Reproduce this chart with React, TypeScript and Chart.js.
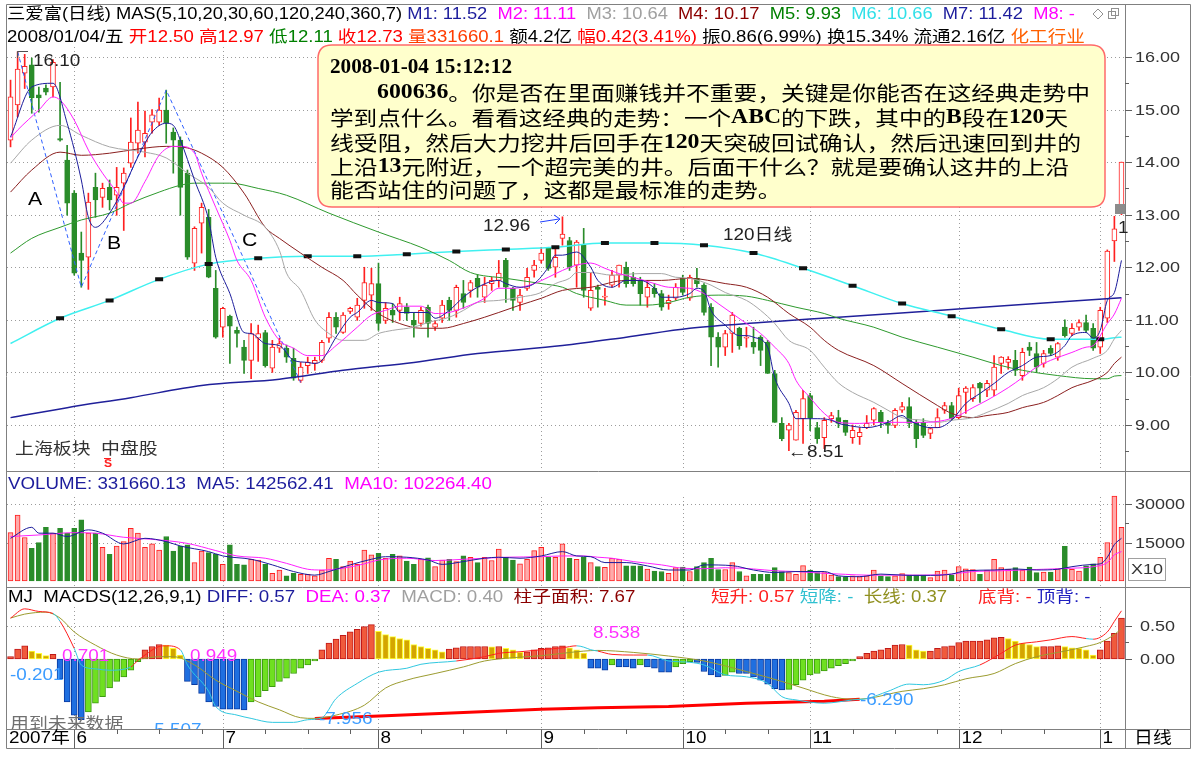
import React, { useEffect, useRef } from 'react';
import { Chart, registerables } from 'chart.js';

Chart.register(...registerables);

// ---------------- DATA ----------------
// daily candles [open, high, low, close], 2007-05 .. 2008-01
const OHLC: number[][] = [
  [14.42,15.56,14.29,15.24],[15.09,16.10,14.86,15.77],[15.69,16.05,15.40,15.82],[15.85,15.98,14.93,15.22],[15.28,15.43,14.95,15.22],
  [15.41,15.47,15.28,15.33],[15.43,15.95,15.24,15.90],[14.45,15.52,14.40,14.42],[14.04,14.32,12.99,13.22],[13.41,13.46,11.85,11.89],
  [12.27,12.67,11.62,12.13],[12.19,13.41,11.58,13.24],[13.52,13.79,12.95,13.28],[13.33,13.60,13.14,13.50],[13.52,13.66,13.09,13.28],
  [13.37,13.90,12.99,13.52],[13.60,13.89,12.70,13.79],[13.98,14.84,13.90,14.38],[14.36,15.14,14.17,14.61],[14.38,14.97,14.10,14.55],
  [14.76,15.00,14.55,14.90],[14.76,15.22,14.70,14.99],[14.99,15.37,14.36,14.74],[14.57,14.65,13.79,14.42],[14.42,14.48,12.99,13.52],
  [13.79,13.85,12.15,12.19],[12.08,12.77,11.94,12.74],[12.84,13.22,12.27,13.14],[12.95,13.10,11.80,11.81],[11.60,11.94,10.65,10.67],
  [10.86,11.24,10.67,11.22],[11.07,11.09,10.17,10.88],[10.80,10.86,10.48,10.74],[10.48,10.61,9.98,10.23],[10.23,10.93,9.88,10.74],
  [10.65,10.90,10.21,10.74],[10.76,10.80,10.10,10.13],[10.08,10.61,10.00,10.48],[10.46,10.65,10.38,10.55],[10.46,10.52,10.19,10.29],
  [10.27,10.46,9.85,9.89],[9.85,10.19,9.81,10.10],[10.13,10.29,9.98,10.19],[10.17,10.29,10.04,10.23],[10.23,10.61,10.19,10.57],
  [10.65,11.14,10.57,11.05],[11.05,11.14,10.74,10.86],[10.76,11.14,10.74,11.09],[11.16,11.24,11.12,11.22],[11.05,11.41,10.99,11.28],
  [11.37,12.00,11.22,11.71],[11.47,11.98,11.18,11.69],[11.69,12.08,10.80,10.93],[10.99,11.33,10.93,11.22],[11.18,11.31,10.95,11.09],
  [11.18,11.43,10.99,11.31],[11.24,11.31,10.99,11.12],[10.99,11.14,10.67,10.90],[10.93,11.24,10.88,11.18],[11.24,11.28,10.67,10.93],
  [10.86,10.99,10.80,10.93],[11.03,11.37,10.95,11.28],[11.37,11.43,10.99,11.18],[11.18,11.66,11.05,11.62],[11.50,11.75,11.22,11.33],
  [11.56,11.75,11.43,11.71],[11.79,11.85,11.43,11.62],[11.43,11.81,11.33,11.66],[11.69,11.81,11.56,11.75],[11.75,12.13,11.62,11.89],
  [12.13,12.17,11.33,11.62],[11.60,11.62,11.18,11.37],[11.33,11.58,11.18,11.47],[11.60,11.98,11.56,11.81],[11.94,12.13,11.81,12.04],
  [12.13,12.38,12.08,12.27],[12.36,12.38,11.94,11.98],[12.00,12.38,11.81,12.19],[12.55,12.96,12.42,12.63],[12.51,12.57,11.94,12.00],
  [12.04,12.51,11.62,12.48],[12.42,12.74,11.43,11.56],[11.22,11.89,11.18,11.56],[11.62,11.66,11.24,11.58],[11.43,11.60,11.28,11.45],
  [11.66,11.94,11.62,11.85],[11.85,12.04,11.62,12.04],[12.00,12.10,11.62,11.69],[11.81,11.90,11.64,11.69],[11.75,11.81,11.28,11.50],
  [11.43,11.75,11.24,11.62],[11.60,11.69,11.43,11.50],[11.50,11.56,11.18,11.24],[11.31,11.47,11.20,11.37],[11.41,11.69,11.37,11.62],
  [11.79,11.85,11.47,11.52],[11.41,11.85,11.37,11.81],[11.79,11.98,11.62,11.69],[11.66,11.69,11.09,11.14],[11.24,11.31,10.13,10.67],
  [10.67,10.76,10.10,10.48],[10.48,10.80,10.32,10.74],[10.74,11.14,10.38,11.09],[10.84,10.86,10.44,10.51],[10.65,10.86,10.48,10.67],
  [10.57,10.86,10.36,10.48],[10.67,10.70,10.13,10.42],[10.57,10.61,9.98,9.98],[9.98,10.04,9.05,9.05],[9.03,9.14,8.70,8.74],
  [8.90,9.03,8.51,9.00],[8.71,9.28,8.71,9.24],[9.12,9.66,8.65,9.50],[9.56,9.60,8.89,9.14],[8.95,9.05,8.65,8.74],
  [8.76,9.14,8.55,9.09],[9.12,9.24,9.05,9.18],[9.14,9.28,8.95,9.03],[9.09,9.09,8.80,8.86],[8.76,9.00,8.65,8.90],
  [8.78,8.95,8.63,8.86],[8.95,9.18,8.93,9.03],[9.09,9.33,9.00,9.31],[9.24,9.28,8.95,9.05],[9.03,9.09,8.84,8.99],
  [8.99,9.31,8.95,9.28],[9.28,9.43,9.24,9.35],[9.35,9.52,8.95,9.03],[9.05,9.10,8.57,8.74],[9.05,9.12,8.76,8.80],
  [8.84,8.95,8.74,8.93],[8.95,9.31,8.95,9.14],[9.28,9.43,9.22,9.37],[9.37,9.43,9.09,9.12],[9.14,9.70,9.12,9.56],
  [9.62,9.73,9.22,9.70],[9.50,9.77,9.45,9.71],[9.79,9.81,9.43,9.70],[9.66,9.85,9.54,9.79],[9.66,10.32,9.56,10.10],
  [10.17,10.30,9.98,10.29],[10.19,10.30,10.06,10.25],[10.23,10.42,9.94,10.04],[9.94,10.46,9.85,10.38],[10.48,10.57,10.32,10.42],
  [10.36,10.57,10.00,10.10],[10.17,10.42,10.10,10.36],[10.46,10.51,10.32,10.36],[10.29,10.57,10.23,10.55],[10.86,11.00,10.67,10.70],
  [10.74,10.93,10.70,10.84],[10.86,11.00,10.80,10.95],[10.95,11.09,10.76,10.80],[10.84,10.93,10.42,10.46],[10.48,11.24,10.36,11.18],
  [11.03,12.33,10.95,12.31],[12.50,12.97,12.11,12.73],[13.10,14.00,13.00,14.00],
];

// volume (x10 shares)
const VOLUME: number[] = [
  18900,25800,17000,12800,15000,21000,18700,20600,18700,20600,
  23900,18700,18700,13200,10400,13700,15400,20600,18700,13200,
  14500,12100,17400,11700,13700,14100,7200,11700,11100,10400,
  6500,14100,6500,6300,8500,8200,6500,3000,4300,2000,
  3000,2600,2600,2000,4300,8900,8500,5600,7800,6500,
  12100,10200,10800,8900,10400,9800,7800,6500,8500,9100,
  5600,8200,8500,7600,9800,9300,7200,9300,8000,12500,
  9300,8200,6700,8500,11900,13200,9300,9300,14500,8900,
  8500,9300,7200,5600,5300,8900,8500,5900,5900,5900,
  4700,3900,3700,3000,5200,5400,3700,5600,7200,8900,
  4500,4500,7200,3700,2000,2600,2600,2600,5200,3700,
  3300,2600,6000,4300,3300,3300,2300,1700,1700,2000,
  1700,2000,4300,2000,1700,2000,2900,2300,2300,2300,
  1300,3900,4300,2300,5600,4800,4500,2600,4300,8500,
  5200,4600,5200,4300,5400,3300,3500,3500,4800,13600,
  4600,3900,5900,6700,9300,15000,33166,21000,
];

// MACDS histogram
const MACD_BAR: number[] = [
  0.035,0.15,0.20,0.12,0.086,0.05,0.07,-0.30,-0.65,-0.85,
  -0.92,-0.80,-0.67,-0.57,-0.44,-0.34,-0.27,-0.17,-0.04,0.14,
  0.19,0.22,0.21,0.16,0.06,-0.34,-0.39,-0.52,-0.65,-0.72,
  -0.76,-0.76,-0.76,-0.77,-0.65,-0.57,-0.48,-0.42,-0.34,-0.29,
  -0.22,-0.14,-0.09,-0.03,0.14,0.24,0.30,0.36,0.41,0.45,
  0.49,0.52,0.42,0.37,0.34,0.31,0.29,0.22,0.19,0.16,
  0.14,0.11,0.15,0.17,0.19,0.19,0.19,0.19,0.185,0.19,
  0.16,0.14,0.10,0.11,0.14,0.16,0.17,0.19,0.20,0.17,
  0.14,0.09,-0.14,-0.14,-0.17,-0.09,-0.12,-0.12,-0.14,-0.09,
  -0.12,-0.14,-0.20,-0.20,-0.12,-0.07,-0.04,-0.05,-0.19,-0.24,
  -0.27,-0.25,-0.20,-0.22,-0.22,-0.27,-0.32,-0.38,-0.45,-0.47,
  -0.46,-0.39,-0.32,-0.24,-0.22,-0.18,-0.14,-0.10,-0.07,-0.03,
  0.035,0.086,0.12,0.14,0.16,0.21,0.22,0.21,0.14,0.12,
  0.12,0.16,0.19,0.20,0.25,0.27,0.27,0.27,0.29,0.32,
  0.33,0.31,0.27,0.24,0.22,0.19,0.19,0.19,0.20,0.19,
  0.17,0.16,0.14,0.06,0.14,0.27,0.39,0.62,
];

// moving averages: [candle index, value]
const MA5_PTS: number[][] = [[0,14.48],[3,15.43],[6,15.50],[8,14.74],[10,13.66],[11,12.95],[12,12.76],[14,13.03],[16,13.52],[18,14.10],[20,14.57],[22,14.74],[23,14.70],[24,14.42],[26,13.66],[28,12.90],[29,12.19],[31,11.50],[33,10.76],[34,10.74],[36,10.55],[38,10.51],[40,10.23],[42,10.19],[43,10.17],[44,10.23],[46,10.67],[48,11.05],[49,11.14],[51,11.37],[52,11.33],[54,11.31],[55,11.14],[57,11.14],[59,11.14],[60,11.03],[62,11.18],[64,11.43],[66,11.62],[69,11.75],[70,11.69],[72,11.62],[74,11.69],[76,12.00],[77,12.23],[78,12.23],[80,12.29],[82,12.00],[83,11.75],[85,11.62],[87,11.75],[89,11.75],[91,11.60],[92,11.43],[94,11.43],[96,11.50],[97,11.60],[98,11.55],[99,11.18],[101,10.90],[103,10.70],[104,10.70],[105,10.67],[107,10.48],[108,9.90],[110,9.41],[111,9.12],[114,9.12],[116,9.09],[117,9.03],[118,9.00],[121,8.95],[124,9.05],[126,9.18],[127,9.09],[130,8.95],[131,8.95],[133,9.09],[135,9.41],[137,9.60],[139,9.79],[141,10.00],[143,10.13],[145,10.29],[147,10.32],[149,10.51],[150,10.70],[152,10.76],[153,10.65],[154,10.80],[155,11.37],[156,11.52],[157,12.13]];
const MA10_PTS: number[][] = [[0,14.46],[1,14.61],[4,14.99],[6,15.24],[7,15.18],[9,14.80],[11,14.23],[13,13.79],[15,13.43],[16,13.22],[17,13.22],[19,13.63],[21,14.13],[23,14.30],[24,14.30],[26,14.17],[27,13.79],[29,13.14],[31,12.51],[32,12.13],[34,11.75],[36,11.05],[38,10.61],[40,10.46],[42,10.32],[44,10.32],[46,10.51],[49,10.86],[51,11.09],[53,11.18],[55,11.26],[58,11.26],[60,11.12],[62,11.14],[65,11.28],[67,11.41],[69,11.60],[71,11.60],[74,11.69],[76,11.81],[78,11.94],[80,12.04],[82,12.08],[84,11.98],[86,11.88],[88,11.81],[91,11.69],[93,11.62],[96,11.60],[98,11.50],[100,11.31],[102,11.12],[104,10.93],[106,10.74],[108,10.48],[110,10.17],[111,9.85],[113,9.52],[115,9.22],[117,9.05],[120,9.03],[123,9.05],[126,9.05],[129,9.05],[132,9.09],[134,9.18],[136,9.33],[138,9.47],[141,9.71],[143,9.90],[145,10.10],[147,10.23],[150,10.38],[152,10.48],[153,10.51],[155,10.93],[156,11.11],[157,11.41]];
const MA20_PTS: number[][] = [[0,13.98],[3,14.42],[7,14.70],[10,14.51],[14,14.29],[19,14.19],[22,14.08],[25,13.79],[28,13.52],[30,13.22],[33,12.99],[36,12.76],[38,12.32],[39,11.89],[41,11.56],[43,11.00],[45,10.74],[47,10.61],[50,10.61],[52,10.74],[54,10.80],[57,10.86],[59,10.95],[62,11.05],[64,11.18],[66,11.33],[69,11.37],[72,11.43],[75,11.52],[77,11.69],[79,11.79],[80,11.90],[82,11.90],[85,11.85],[89,11.88],[92,11.88],[94,11.81],[96,11.79],[99,11.66],[101,11.52],[104,11.37],[106,11.18],[108,10.93],[110,10.61],[113,10.42],[115,10.10],[117,9.80],[119,9.62],[122,9.43],[124,9.28],[126,9.14],[129,9.09],[131,9.05],[133,9.09],[136,9.14],[138,9.24],[141,9.41],[143,9.56],[146,9.71],[148,9.88],[150,10.10],[153,10.27],[155,10.42],[156,10.64],[157,10.80]];
const MA30_PTS: number[][] = [[0,13.43],[3,13.85],[7,14.19],[10,14.13],[14,14.17],[18,14.25],[22,14.30],[25,14.27],[27,14.17],[30,13.90],[33,13.41],[36,12.76],[38,12.55],[41,12.27],[44,12.00],[47,11.75],[49,11.47],[52,11.12],[55,10.93],[58,10.84],[61,10.84],[64,10.93],[67,11.05],[69,11.14],[72,11.28],[75,11.41],[78,11.56],[82,11.62],[87,11.75],[92,11.75],[96,11.79],[101,11.69],[104,11.62],[107,11.43],[110,11.12],[113,10.86],[115,10.61],[117,10.42],[122,10.13],[126,9.79],[131,9.37],[133,9.22],[136,9.14],[138,9.18],[141,9.24],[143,9.33],[146,9.43],[148,9.56],[150,9.71],[153,9.85],[155,10.00],[156,10.17],[157,10.29]];
const MA60_PTS: number[][] = [[0,12.27],[3,12.55],[7,12.76],[10,12.90],[14,13.03],[17,13.22],[21,13.43],[24,13.56],[26,13.60],[31,13.60],[35,13.50],[39,13.37],[45,13.03],[52,12.67],[58,12.38],[62,12.13],[65,11.90],[70,11.79],[75,11.69],[78,11.62],[80,11.50],[84,11.37],[87,11.28],[90,11.28],[93,11.33],[96,11.43],[100,11.47],[104,11.45],[107,11.37],[111,11.24],[115,11.12],[117,11.03],[122,10.86],[126,10.67],[131,10.48],[136,10.29],[140,10.13],[143,10.04],[148,9.94],[153,9.88],[155,9.88],[156,9.93],[157,9.94]];
const MA120_PTS: number[][] = [[0,10.55],[7,11.03],[14,11.37],[21,11.77],[28,12.06],[35,12.17],[42,12.21],[49,12.21],[56,12.25],[63,12.30],[70,12.34],[77,12.38],[84,12.46],[91,12.46],[98,12.42],[105,12.27],[112,11.98],[119,11.65],[126,11.31],[133,11.07],[140,10.82],[147,10.63],[154,10.63],[156,10.66],[157,10.67]];
const MA240_PTS: number[][] = [[0,9.14],[8,9.33],[17,9.52],[27,9.75],[38,9.87],[47,10.04],[57,10.19],[66,10.36],[78,10.51],[87,10.67],[96,10.84],[106,10.95],[117,11.05],[131,11.18],[145,11.31],[157,11.42]];
const ZIGZAG_PTS: number[][] = [[1,16.10],[10,11.62],[22,15.37],[41,9.81]];

const VMA5_PTS: number[][] = [[0,16700],[3,21000],[4,18700],[6,18700],[8,17400],[11,20000],[13,18700],[16,14500],[19,16700],[22,15400],[24,13700],[28,11500],[30,9800],[34,8500],[37,6300],[40,3700],[43,2300],[45,3700],[48,6300],[51,8500],[53,9500],[56,9300],[59,8200],[61,6500],[64,7600],[67,8900],[69,9300],[72,8900],[75,9800],[78,11500],[80,9800],[82,9500],[84,7200],[87,7200],[90,5900],[93,4300],[96,4300],[98,6300],[102,6000],[105,4300],[108,3300],[111,3700],[115,3700],[117,2000],[120,1700],[123,2700],[127,2200],[130,2200],[133,2700],[135,4000],[139,4300],[142,4700],[145,4300],[148,4600],[150,5600],[153,6500],[154,6700],[155,9300],[156,14256],[157,16700]];
const VMA10_PTS: number[][] = [[0,17400],[4,18000],[9,18900],[12,18700],[16,17100],[20,16300],[25,14700],[29,11900],[32,9800],[36,8900],[39,6900],[42,4600],[44,4300],[47,5000],[50,6700],[52,8200],[56,8900],[60,8000],[64,8500],[67,8900],[70,9300],[75,9500],[78,9800],[81,9800],[83,9300],[85,8900],[88,7600],[92,6300],[95,5000],[98,4800],[101,5200],[105,4700],[108,4000],[111,3700],[115,3000],[118,2600],[121,2300],[126,2300],[129,2300],[133,2700],[136,3700],[140,4000],[143,4300],[146,4600],[150,5000],[153,5600],[155,7200],[156,10226],[157,11500]];

const DIFF_PTS: number[][] = [[0,0.62],[2,0.76],[4,0.72],[6,0.69],[7,0.57],[9,0.16],[10,-0.09],[12,-0.15],[14,-0.17],[17,-0.12],[18,-0.02],[19,0.06],[21,0.19],[22,0.20],[24,0.14],[25,-0.09],[28,-0.49],[29,-0.72],[32,-0.85],[34,-0.90],[37,-0.96],[40,-0.96],[42,-0.92],[44,-0.89],[46,-0.60],[49,-0.37],[52,-0.20],[56,-0.14],[58,-0.08],[63,-0.03],[67,0.035],[69,0.086],[72,0.11],[75,0.14],[78,0.17],[80,0.20],[81,0.18],[82,0.14],[83,0.12],[85,0.07],[88,0.06],[90,0.06],[93,-0.03],[96,-0.05],[98,-0.09],[101,-0.24],[104,-0.27],[107,-0.37],[109,-0.57],[111,-0.62],[115,-0.67],[117,-0.65],[119,-0.62],[121,-0.60],[124,-0.49],[127,-0.38],[129,-0.39],[132,-0.32],[134,-0.19],[137,-0.09],[140,0.086],[142,0.21],[145,0.26],[147,0.29],[150,0.34],[152,0.31],[153,0.30],[155,0.41],[156,0.57],[157,0.73]];
const DEA_PTS: number[][] = [[0,0.62],[2,0.68],[5,0.71],[7,0.62],[9,0.41],[12,0.21],[15,0.06],[18,0.0],[21,0.035],[23,0.035],[26,-0.09],[29,-0.32],[32,-0.49],[35,-0.65],[38,-0.77],[41,-0.89],[43,-0.90],[46,-0.85],[50,-0.70],[53,-0.44],[56,-0.32],[60,-0.22],[64,-0.12],[67,-0.03],[71,0.02],[75,0.05],[78,0.086],[81,0.12],[83,0.13],[88,0.10],[93,0.045],[98,-0.03],[104,-0.19],[109,-0.34],[112,-0.44],[116,-0.57],[119,-0.61],[121,-0.60],[126,-0.49],[129,-0.45],[132,-0.39],[135,-0.30],[139,-0.22],[142,-0.07],[145,0.035],[149,0.12],[152,0.19],[154,0.25],[156,0.37],[157,0.46]];
const LONG_PTS: number[][] = [[43,-0.90],[53,-0.86],[64,-0.81],[75,-0.76],[83,-0.74],[93,-0.72],[104,-0.67],[115,-0.64],[120,-0.61]];

// axis / labels
const MONTHS: [number, string][] = [[9,'6'],[30,'7'],[52,'8'],[75,'9'],[95,'10'],[113,'11'],[134,'12'],[154,'1']];
const PRICE_TICKS = [9, 10, 11, 12, 13, 14, 15, 16];
const VOL_TICKS = [15000, 30000];
const MACD_TICKS = [0, 0.5];

// ---------------- LAYOUT ----------------
const W = 1193, H = 758;
const PL = 7, PR = 1125, PT = 4, PB = 729;
const N = OHLC.length;
const SANS = '"Liberation Sans", "Noto Sans CJK SC", sans-serif';
const RED = '#ff2020', GREEN = '#2a8c2a';

const sparse = (pts: number[][]) => {
  const a: (number | null)[] = new Array(N).fill(null);
  pts.forEach(([i, v]) => { a[i] = v; });
  return a;
};
const isUp = (i: number) => OHLC[i][3] >= OHLC[i][0];
const macdKind = (i: number) => {
  const v = MACD_BAR[i], p = i > 0 ? MACD_BAR[i - 1] : v;
  if (v >= 0) return v >= p ? 0 : 1;
  return v <= p ? 2 : 3;
};
const MACD_FILL = ['#f05a3c', '#d4a500', '#1f6fe0', '#6fe020'];
const MACD_EDGE = ['#c01818', '#ffff30', '#0a3aa0', '#3c9a10'];

function txt(ctx: any, s: string, x: number, y: number, size: number, color: string, sx = 1.18, opt: any = {}) {
  ctx.save();
  ctx.font = `${opt.bold ? 'bold ' : ''}${size}px ${opt.family || SANS}`;
  ctx.fillStyle = color;
  ctx.textBaseline = 'middle';
  ctx.textAlign = opt.align || 'left';
  const w = ctx.measureText(s).width * sx;
  ctx.translate(x, y);
  ctx.scale(sx, 1);
  ctx.fillText(s, 0, 0);
  ctx.restore();
  return w;
}
function runs(ctx: any, parts: [string, string][], x: number, y: number, size: number, sx = 1.18) {
  let cx = x;
  parts.forEach(([s, c]) => { cx += txt(ctx, s, cx, y, size, c, sx); });
  return cx;
}
function seg(ctx: any, x0: number, y0: number, x1: number, y1: number) {
  ctx.beginPath(); ctx.moveTo(x0, y0); ctx.lineTo(x1, y1); ctx.stroke();
}

const richFont = (r: string) => /^[\x20-\x7E]+$/.test(r) ? 'bold 20px "Liberation Serif", "DejaVu Serif", serif' : '20px "Noto Sans CJK SC", sans-serif';
function richWidth(ctx: any, s: string) {
  let w = 0;
  (s.match(/[\x20-\x7E]+|[^\x20-\x7E]+/g) || []).forEach((r) => { ctx.font = richFont(r); w += ctx.measureText(r).width; });
  return w;
}
function richDraw(ctx: any, s: string, x: number, y: number, sx: number) {
  let cx = x;
  (s.match(/[\x20-\x7E]+|[^\x20-\x7E]+/g) || []).forEach((r) => {
    ctx.save();
    ctx.font = richFont(r);
    ctx.fillStyle = '#000';
    ctx.textBaseline = 'middle';
    const w = ctx.measureText(r).width;
    ctx.translate(cx, y); ctx.scale(sx, 1); ctx.fillText(r, 0, 0);
    ctx.restore();
    cx += w * sx;
  });
}

const NOTE: [string, number, number, number | null][] = [
  ['2008-01-04 15:12:12', 330, 68, 512],
  ['600636。你是否在里面赚钱并不重要，关键是你能否在这经典走势中', 377, 93, 1090],
  ['学到点什么。看看这经典的走势：一个ABC的下跌，其中的B段在120天', 330, 118, 1068],
  ['线受阻，然后大力挖井后回手在120天突破回试确认，然后迅速回到井的', 330, 143, 1081],
  ['上沿13元附近，一个超完美的井。后面干什么？就是要确认这井的上沿', 330, 167, 1069],
  ['能否站住的问题了，这都是最标准的走势。', 330, 190, null],
];

function drawGrid(chart: any) {
  const { ctx, scales } = chart;
  const { x, yP, yV, yM } = scales;
  ctx.save();
  ctx.strokeStyle = '#9c9c9c';
  ctx.lineWidth = 1;
  ctx.setLineDash([1, 3]);
  const h = (y: number) => { const yy = Math.round(y) + 0.5; seg(ctx, PL, yy, PR, yy); };
  PRICE_TICKS.forEach((p) => h(yP.getPixelForValue(p)));
  VOL_TICKS.forEach((t) => h(yV.getPixelForValue(t)));
  h(yM.getPixelForValue(0.5));
  MONTHS.forEach(([i]) => {
    const px = Math.round(x.getPixelForValue(i)) + 0.5;
    seg(ctx, px, 47, px, 471); seg(ctx, px, 497, px, 587); seg(ctx, px, 607, px, 729);
  });
  ctx.restore();
}

function drawDecor(chart: any) {
  const { ctx, scales } = chart;
  const { x, yP, yV, yM } = scales;
  ctx.save();
  ctx.setLineDash([]);
  ctx.lineWidth = 1;

  // last-price marker
  const lx = x.getPixelForValue(N - 1);
  const ly = yP.getPixelForValue(OHLC[N - 1][0]);
  ctx.fillStyle = '#8c8c8c';
  ctx.fillRect(Math.round(lx) - 6, Math.round(ly) - 5, PR - (Math.round(lx) - 6), 10);

  // frame
  ctx.strokeStyle = '#808080';
  seg(ctx, 6.5, 4.5, 1190.5, 4.5);
  seg(ctx, 6.5, 4.5, 6.5, 748.5);
  seg(ctx, 1125.5, 4.5, 1125.5, 748.5);
  seg(ctx, 1190.5, 4.5, 1190.5, 748.5);
  seg(ctx, 6.5, 471.5, 1190.5, 471.5);
  seg(ctx, 6.5, 587.5, 1190.5, 587.5);
  seg(ctx, 6.5, 729.5, 1190.5, 729.5);
  seg(ctx, 6.5, 748.5, 1190.5, 748.5);

  // right axis ticks and labels
  ctx.strokeStyle = '#606060';
  PRICE_TICKS.forEach((p) => {
    const y = Math.round(yP.getPixelForValue(p)) + 0.5;
    seg(ctx, PR, y, PR + 7, y);
    const ym = Math.round(yP.getPixelForValue(p + 0.5)) + 0.5;
    if (p < 16) seg(ctx, PR, ym, PR + 4, ym);
    txt(ctx, p.toFixed(2), 1135, y, 15, '#333', 1.2);
  });
  const ym0 = Math.round(yP.getPixelForValue(8.5)) + 0.5; seg(ctx, PR, ym0, PR + 4, ym0);
  VOL_TICKS.forEach((t) => {
    const y = Math.round(yV.getPixelForValue(t)) + 0.5;
    seg(ctx, PR, y, PR + 7, y);
    txt(ctx, String(t), 1135, y, 15, '#333', 1.2);
  });
  const yv2 = Math.round(yV.getPixelForValue(22500)) + 0.5; seg(ctx, PR, yv2, PR + 4, yv2);
  MACD_TICKS.forEach((t) => {
    const y = Math.round(yM.getPixelForValue(t)) + 0.5;
    seg(ctx, PR, y, PR + 7, y);
    txt(ctx, t.toFixed(2), 1140, y, 15, '#333', 1.2);
  });
  const ym2 = Math.round(yM.getPixelForValue(0.25)) + 0.5; seg(ctx, PR, ym2, PR + 4, ym2);
  ctx.strokeStyle = '#a0a0a0';
  ctx.strokeRect(1128.5, 558.5, 37, 22);
  txt(ctx, 'X10', 1131, 570, 15, '#333', 1.2);

  // x axis row
  ctx.strokeStyle = '#606060';
  txt(ctx, '2007年', 9, 739, 16, '#000');
  MONTHS.forEach(([i, s], k) => {
    const px = Math.round(x.getPixelForValue(i)) + 0.5;
    seg(ctx, px, 729.5, px, 748.5);
    txt(ctx, s, px + 2, 739, 16, '#000');
    const next = k + 1 < MONTHS.length ? MONTHS[k + 1][0] : N;
    [6, 12, 18].forEach((o) => {
      if (i + o < next - 2) { const tx = Math.round(x.getPixelForValue(i + o)) + 0.5; seg(ctx, tx, 729.5, tx, 734); }
    });
  });
  txt(ctx, '日线', 1134, 739, 16, '#000');

  // main header
  runs(ctx, [
    ['三爱富(日线) MAS(5,10,20,30,60,120,240,360,7) ', '#000'],
    ['M1: 11.52  ', '#1c1c9c'], ['M2: 11.11  ', '#ff00ff'], ['M3: 10.64  ', '#a0a0a0'],
    ['M4: 10.17  ', '#8b0000'], ['M5: 9.93  ', '#008000'], ['M6: 10.66  ', '#30e0e8'],
    ['M7: 11.42  ', '#1c1c9c'], ['M8: -', '#ff00ff'],
  ], 7, 15, 16, 1.145);
  // icons
  ctx.strokeStyle = '#909090';
  ctx.beginPath(); ctx.moveTo(1098, 9); ctx.lineTo(1103, 14); ctx.lineTo(1098, 19); ctx.lineTo(1093, 14); ctx.closePath(); ctx.stroke();
  ctx.strokeRect(1108.5, 11.5, 7, 7); ctx.strokeRect(1111.5, 8.5, 7, 7);
  runs(ctx, [
    ['2008/01/04/五 ', '#000'], ['开12.50 ', '#ff0000'], ['高12.97 ', '#ff0000'], ['低12.11 ', '#008000'],
    ['收12.73 ', '#ff0000'], ['量331660.1 ', '#ff3c00'], ['额4.2亿 ', '#000'], ['幅0.42(3.41%) ', '#ff0000'],
    ['振0.86(6.99%) ', '#000'], ['换15.34% ', '#000'], ['流通2.16亿 ', '#000'], ['化工行业', '#ff6000'],
  ], 7, 38, 16, 1.16);

  // sub panel headers
  runs(ctx, [['VOLUME: 331660.13  MA5: 142562.41  ', '#1c1c9c'], ['MA10: 102264.40', '#ff00ff']], 8, 485, 16, 1.17);
  runs(ctx, [['MJ  MACDS(12,26,9,1) ', '#000'], ['DIFF: 0.57  ', '#1c1c9c'], ['DEA: 0.37  ', '#ff00ff'], ['MACD: 0.40  ', '#a0a0a0'], ['柱子面积: 7.67', '#8b0000']], 8, 598, 16, 1.17);
  runs(ctx, [['短升: 0.57 ', '#ff2020'], ['短降: -  ', '#30c0d0'], ['长线: 0.37', '#909020']], 711, 598, 16, 1.16);
  runs(ctx, [['底背: - ', '#ff2020'], ['顶背: -', '#2020c0']], 978, 598, 16, 1.16);

  // macd value labels
  txt(ctx, '-0.201', 10, 676, 16, '#3c9cff');
  txt(ctx, '0.701', 62, 657, 16, '#ff30ff');
  txt(ctx, '0.949', 190, 657, 16, '#ff30ff');
  txt(ctx, '8.538', 593, 634, 16, '#ff30ff');
  txt(ctx, '-6.290', 860, 701, 16, '#3c9cff');
  txt(ctx, '-7.956', 319, 720, 16, '#3c9cff');
  ctx.save();
  ctx.beginPath(); ctx.rect(PL, 600, PR - PL, PB - 600); ctx.clip();
  txt(ctx, '用到未来数据', 10, 725, 16, '#707070');
  txt(ctx, '-5.507', 148, 731, 16, '#3c9cff');
  ctx.restore();

  // main panel annotations
  ctx.strokeStyle = '#505050';
  seg(ctx, 17.5, 58, 17.5, 51.5); seg(ctx, 17.5, 51.5, 28, 51.5);
  txt(ctx, '16.10', 33, 62, 16, '#222');
  txt(ctx, 'A', 28, 200, 18, '#000');
  txt(ctx, 'B', 107, 244, 18, '#000');
  txt(ctx, 'C', 242, 241, 18, '#000');
  txt(ctx, '12.96', 483, 227, 16, '#222');
  ctx.strokeStyle = '#2040ff';
  seg(ctx, 540, 222, 559, 219);
  ctx.beginPath(); ctx.moveTo(554, 215); ctx.lineTo(560, 219); ctx.lineTo(555, 224); ctx.stroke();
  txt(ctx, '120日线', 723, 236, 16, '#222');
  txt(ctx, '←8.51', 788, 453, 16, '#222');
  txt(ctx, '上海板块  中盘股', 15, 450, 16, '#333');
  txt(ctx, 'S', 104, 464, 11, '#ff2020', 1.1, { bold: true });
  ctx.strokeStyle = '#ff2020'; seg(ctx, 104, 458.5, 111, 458.5);
  txt(ctx, '1', 1118, 229, 16, '#222');

  // note box
  const bx = 318, by = 45, bw = 1105 - 318, bh = 207 - 45, r = 14;
  ctx.beginPath();
  ctx.moveTo(bx + r, by); ctx.lineTo(bx + bw - r, by); ctx.quadraticCurveTo(bx + bw, by, bx + bw, by + r);
  ctx.lineTo(bx + bw, by + bh - r); ctx.quadraticCurveTo(bx + bw, by + bh, bx + bw - r, by + bh);
  ctx.lineTo(bx + r, by + bh); ctx.quadraticCurveTo(bx, by + bh, bx, by + bh - r);
  ctx.lineTo(bx, by + r); ctx.quadraticCurveTo(bx, by, bx + r, by); ctx.closePath();
  ctx.fillStyle = '#ffffcc'; ctx.fill();
  ctx.strokeStyle = '#ff6a6a'; ctx.lineWidth = 1.5; ctx.stroke();
  let sum = 0, cnt = 0;
  const sxs = NOTE.map(([s, x0, , end]) => {
    if (end == null) return null;
    const v = (end - x0) / richWidth(ctx, s);
    if (/[^\x20-\x7E]/.test(s)) { sum += v; cnt++; }
    return v;
  });
  NOTE.forEach(([s, x0, y], k) => richDraw(ctx, s, x0, y, sxs[k] == null ? sum / cnt : (sxs[k] as number)));
  ctx.restore();
}

const decor = {
  id: 'decor',
  beforeDraw(chart: any) {
    const c = chart.ctx; c.save(); c.fillStyle = '#fff'; c.fillRect(0, 0, chart.width, chart.height); c.restore();
  },
  beforeDatasetsDraw(chart: any) { drawGrid(chart); },
  afterDatasetsDraw(chart: any) { drawDecor(chart); },
};

function lineDs(label: string, pts: number[][], color: string, width: number, axis: string, extra: any = {}) {
  return {
    type: 'line', label, yAxisID: axis, data: sparse(pts), borderColor: color, borderWidth: width,
    pointRadius: 0, spanGaps: true, cubicInterpolationMode: 'monotone', fill: false, order: 1, ...extra,
  };
}

export default function App() {
  const ref = useRef<HTMLCanvasElement | null>(null);
  useEffect(() => {
    if (!ref.current) return;
    const labels = OHLC.map((_, i) => String(i));
    const chart = new Chart(ref.current, {
      data: {
        labels,
        datasets: [
          lineDs('MA5', MA5_PTS, '#1c1c9c', 1, 'yP'),
          lineDs('MA10', MA10_PTS, '#ff20ff', 1, 'yP'),
          lineDs('MA20', MA20_PTS, '#a8a8a8', 1, 'yP'),
          lineDs('MA30', MA30_PTS, '#8b2020', 1, 'yP'),
          lineDs('MA60', MA60_PTS, '#2e9a2e', 1, 'yP'),
          lineDs('MA120', MA120_PTS, '#40f0f0', 1.5, 'yP', {
            pointRadius: (c: any) => (c.dataIndex > 0 && c.dataIndex % 7 === 0 && c.raw != null ? 4 : 0),
            pointStyle: 'line', pointBorderColor: '#111', pointBorderWidth: 4, pointBackgroundColor: '#111',
          }),
          lineDs('MA240', MA240_PTS, '#20209a', 1.5, 'yP'),
          lineDs('ZigZag', ZIGZAG_PTS, '#3060ff', 1, 'yP', { cubicInterpolationMode: 'default', tension: 0, borderDash: [4, 3] }),
          lineDs('VMA5', VMA5_PTS, '#1c1c9c', 1, 'yV'),
          lineDs('VMA10', VMA10_PTS, '#ff20ff', 1, 'yV'),
          lineDs('DIFF', DIFF_PTS, '#ff2020', 1, 'yM', {
            segment: { borderColor: (c: any) => (c.p1.parsed.y >= c.p0.parsed.y ? '#ff2020' : '#30c8e0') },
          }),
          lineDs('DEA', DEA_PTS, '#9c9c30', 1, 'yM'),
          lineDs('Long', LONG_PTS, '#ff0000', 3, 'yM', { cubicInterpolationMode: 'default', tension: 0 }),
          {
            type: 'bar', label: 'wick', yAxisID: 'yP', data: OHLC.map((d) => [d[2], d[1]]),
            backgroundColor: OHLC.map((_, i) => (isUp(i) ? RED : GREEN)), barThickness: 1, grouped: false, order: 20,
          },
          {
            type: 'bar', label: 'body', yAxisID: 'yP', data: OHLC.map((d) => [d[0], d[3]]),
            backgroundColor: OHLC.map((_, i) => (isUp(i) ? '#ffffff' : GREEN)),
            borderColor: OHLC.map((_, i) => (isUp(i) ? RED : GREEN)),
            borderWidth: 1, borderSkipped: false, minBarLength: 1, barThickness: 5, grouped: false, order: 19,
          },
          {
            type: 'bar', label: 'volume', yAxisID: 'yV', data: VOLUME,
            backgroundColor: VOLUME.map((_, i) => (isUp(i) ? '#ffaaaa' : GREEN)),
            borderColor: VOLUME.map((_, i) => (isUp(i) ? RED : GREEN)),
            borderWidth: 1, borderSkipped: false, barThickness: 5, grouped: false, order: 18,
          },
          {
            type: 'bar', label: 'macd', yAxisID: 'yM', data: MACD_BAR,
            backgroundColor: MACD_BAR.map((_, i) => MACD_FILL[macdKind(i)]),
            borderColor: MACD_BAR.map((_, i) => MACD_EDGE[macdKind(i)]),
            borderWidth: 1, borderSkipped: false, barThickness: 6, grouped: false, order: 18,
          },
        ] as any,
      },
      options: {
        responsive: false,
        devicePixelRatio: 1,
        animation: false,
        events: [],
        layout: { padding: { left: PL, top: PT, right: W - PR, bottom: H - PB } },
        plugins: { legend: { display: false }, tooltip: { enabled: false } },
        scales: {
          x: { type: 'category', display: false, offset: true },
          yP: { type: 'linear', display: false, min: 3.217, max: 17.008 },
          yV: { type: 'linear', display: false, min: -57883, max: 225665 },
          yM: { type: 'linear', display: false, min: -1.0606, max: 9.924 },
        },
      } as any,
      plugins: [decor],
    } as any);
    return () => chart.destroy();
  }, []);
  return (
    <div style={{ position: 'absolute', left: 0, top: 0, width: W, height: H, background: '#fff' }}>
      <canvas ref={ref} width={W} height={H} style={{ display: 'block', width: W, height: H }} />
    </div>
  );
}
